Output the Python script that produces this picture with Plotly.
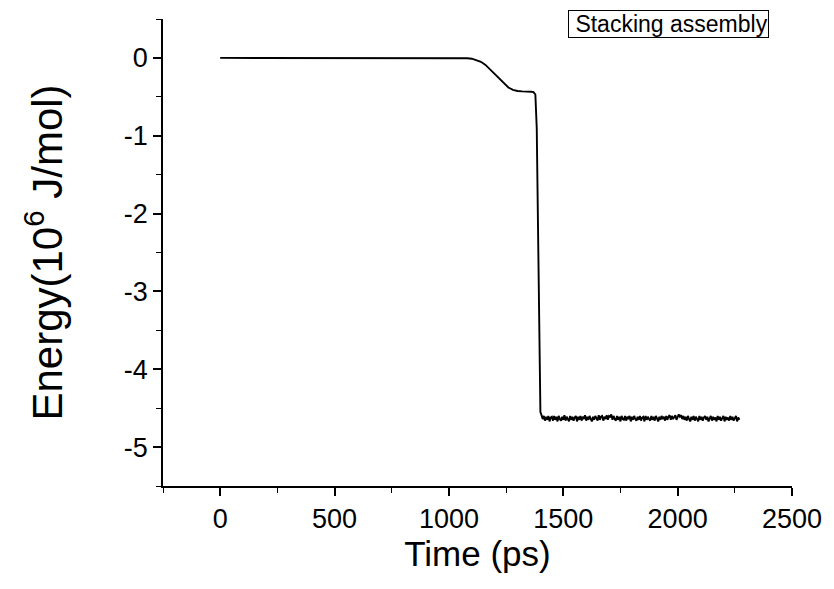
import plotly.graph_objects as go

# ---- data ----
time_early = [0, 100, 200, 300, 400, 500, 600, 700, 800, 900, 1000, 1050,
              1080, 1100, 1120, 1140, 1160, 1180, 1200, 1220, 1240, 1260,
              1280, 1300, 1320, 1340, 1360, 1370, 1378, 1384, 1388, 1392,
              1396, 1400]
energy_early = [0, 0, 0, 0, 0, 0, 0, 0, 0, 0, 0, -0.002,
                -0.005, -0.01, -0.03, -0.05, -0.09, -0.15, -0.21, -0.27, -0.33, -0.38,
                -0.41, -0.425, -0.43, -0.43, -0.435, -0.44, -0.47, -0.9, -1.9, -3.0,
                -4.0, -4.55]

time_late = list(range(1405, 2275, 5))
energy_late = [
    -4.59, -4.64, -4.60, -4.66, -4.61, -4.65, -4.60, -4.67, -4.62, -4.61, -4.66, -4.60,
    -4.65, -4.61, -4.67, -4.60, -4.64, -4.66, -4.61, -4.65, -4.59, -4.66, -4.61, -4.64,
    -4.67, -4.60, -4.65, -4.61, -4.66, -4.62, -4.60, -4.67, -4.61, -4.65, -4.60, -4.66,
    -4.61, -4.64, -4.59, -4.66, -4.61, -4.65, -4.60, -4.64, -4.67, -4.61, -4.65, -4.60,
    -4.64, -4.66, -4.59, -4.65, -4.61, -4.60, -4.66, -4.61, -4.64, -4.59, -4.65, -4.60,
    -4.61, -4.58, -4.65, -4.60, -4.64, -4.66, -4.60, -4.65, -4.61, -4.67, -4.60, -4.64,
    -4.65, -4.60, -4.66, -4.61, -4.64, -4.60, -4.67, -4.61, -4.65, -4.60, -4.64, -4.66,
    -4.61, -4.65, -4.60, -4.66, -4.62, -4.61, -4.67, -4.60, -4.65, -4.61, -4.64, -4.66,
    -4.60, -4.65, -4.61, -4.66, -4.60, -4.64, -4.67, -4.61, -4.65, -4.60, -4.64, -4.61,
    -4.66, -4.60, -4.65, -4.61, -4.59, -4.65, -4.60, -4.64, -4.61, -4.59, -4.65, -4.60,
    -4.58, -4.61, -4.59, -4.64, -4.60, -4.65, -4.61, -4.66, -4.60, -4.64, -4.67, -4.61,
    -4.65, -4.60, -4.66, -4.61, -4.64, -4.67, -4.60, -4.65, -4.61, -4.66, -4.62, -4.60,
    -4.65, -4.61, -4.67, -4.62, -4.60, -4.66, -4.61, -4.65, -4.62, -4.67, -4.60, -4.65,
    -4.61, -4.66, -4.62, -4.60, -4.67, -4.61, -4.65, -4.62, -4.66, -4.60, -4.65, -4.61,
    -4.66, -4.62, -4.60, -4.67, -4.62, -4.65,
]

time = time_early + time_late
energy = energy_early + energy_late

series_name = "Stacking assembly"
x_title = "Time (ps)"
y_title = "Energy(10<sup>6</sup> J/mol)"

FONT = "Liberation Sans, Arial, sans-serif"

fig = go.Figure()
fig.add_trace(go.Scatter(
    x=time, y=energy, mode="lines", name=series_name,
    line=dict(color="black", width=1.9),
    showlegend=False,
))

fig.add_annotation(
    text="\u00a0" + series_name, xref="paper", yref="paper",
    x=0.803, y=0.989, xanchor="center", yanchor="middle",
    showarrow=False, font=dict(family=FONT, size=23, color="black"),
    bordercolor="black", borderwidth=1, borderpad=0, bgcolor="white",
)

axis_common = dict(
    showgrid=False, zeroline=False, showline=True, linecolor="black",
    linewidth=1.8, ticks="outside", tickcolor="black", tickwidth=1.5,
    ticklen=8, mirror=False, automargin=False,
    tickfont=dict(family=FONT, size=27, color="black"),
)

fig.update_layout(
    width=834, height=589,
    paper_bgcolor="white", plot_bgcolor="white",
    margin=dict(l=155, r=50, t=11, b=111),
    font=dict(family=FONT, color="black"),
    xaxis=dict(
        range=[-250, 2500], tickvals=[0, 500, 1000, 1500, 2000, 2500],
        title=dict(text=x_title, font=dict(family=FONT, size=35), standoff=8),
        minor=dict(ticks="outside", dtick=250, tick0=-250, ticklen=5,
                   tickcolor="black", tickwidth=1.3),
        **axis_common,
    ),
    yaxis=dict(
        range=[-5.5, 0.5], tickvals=[0, -1, -2, -3, -4, -5],
        ticktext=["0", "-1", "-2", "-3", "-4", "-5"],
        title=dict(text=y_title, font=dict(family=FONT, size=42), standoff=48),
        minor=dict(ticks="outside", dtick=0.5, tick0=0.5, ticklen=5,
                   tickcolor="black", tickwidth=1.3),
        **axis_common,
    ),
)

fig.write_html("out.html")
